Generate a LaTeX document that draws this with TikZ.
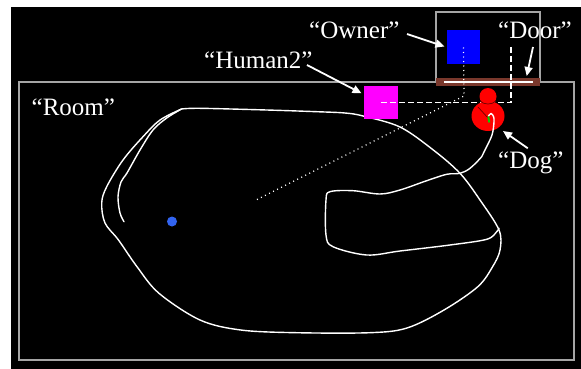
\documentclass[tikz,border=0pt]{standalone}
\usepackage{fontspec}
\setmainfont{Liberation Serif}
\usetikzlibrary{arrows.meta}
\definecolor{roomgray}{RGB}{165,165,165}
\definecolor{doorbrown}{RGB}{122,56,44}
\definecolor{dotblue}{RGB}{50,100,240}
\definecolor{ownerblue}{RGB}{0,0,255}
\definecolor{humanmag}{RGB}{255,0,255}
\definecolor{dogred}{RGB}{255,0,0}
\definecolor{darkdog}{RGB}{110,0,0}
\definecolor{dirgreen}{RGB}{0,210,0}
\tikzset{
  frame/.style={draw=roomgray,line width=1.1pt},
  traj/.style={draw=white,line width=1.4pt,line join=round,line cap=round},
  lbl/.style={text=white,inner sep=0pt,anchor=base west,font=\fontsize{25}{28}\selectfont},
  arr/.style={draw=white,line width=1.8pt,-{Triangle[length=9pt,width=8pt]}},
  dashw/.style={draw=white,line width=1.5pt,dash pattern=on 6pt off 3pt},
  dotw/.style={draw=white,line width=1.2pt,dash pattern=on 1pt off 3.5pt},
  box/.style={inner sep=0pt,draw=none}
}
\begin{document}
\begin{tikzpicture}[x=1pt,y=-1pt]
\useasboundingbox (0,0) rectangle (581,369);
\fill[white] (0,0) rectangle (581,369);
\fill[black] (11,7) rectangle (581,369);
% room and door box
\draw[frame] (19,82) rectangle (574,360);
\draw[frame] (436,12) rectangle (540,82);
\fill[doorbrown] (436,78) rectangle (540,86);
\draw[white,line width=1.2pt] (444,82) -- (533,82);
% trajectory (big loop)
\draw[traj] plot[smooth,tension=0.55] coordinates {
 (124,221.7) (120,213) (118,197) (121,182) (127,173) (140,150) (153,130) (166.7,118) (181.5,109)};
\draw[traj] plot[smooth,tension=0.55] coordinates {
 (181.5,109) (200,108.3) (266.7,110) (316.7,111.7) (345,113) (363,116) (400,127) (433.3,150) (460,173.3) (480,200) (499,230) (500,250) (492.6,266.7) (477.8,286.7) (444,310) (407,328) (370,332.7) (296,332.7) (240.7,330) (200,320) (159,293.3) (137,266.7) (118.5,240) (105,223) (101.7,203) (106.7,186.7) (123,160) (143,136.7) (160,120) (181.5,109)};
% squares
\node[box,fill=ownerblue,minimum width=33pt,minimum height=34pt] (owner) at (463.5,47.5) {};
\node[box,fill=humanmag,minimum width=34pt,minimum height=33pt] (human) at (380.5,102.7) {};
% dashed door lines
\coordinate (dtop) at (511,47);
\coordinate (dcorner) at (511,102.5);
\coordinate (dleft) at (380,102.5);
\draw[dashw] (dtop) -- (dcorner) -- (dleft);
% dotted gaze line
\coordinate (gbend) at (464,96);
\coordinate (gend) at (254,201);
\draw[dotw] (owner.center) -- (gbend) -- (gend);
% blue dot
\node[box,circle,fill=dotblue,minimum size=10pt] (bdot) at (172,221.5) {};
% dog
\fill[dogred] (488,116) ellipse [x radius=16.5pt,y radius=15pt];
\node[box,circle,fill=dogred,minimum size=17pt] (doghead) at (488,96.5) {};
\draw[darkdog,line width=0.7pt] (480,101) .. controls (484,105) and (492,105) .. (496,101);
\draw[darkdog,line width=0.7pt] (478,107) -- (488,118);
% trajectory from dog
\draw[traj] plot[smooth,tension=0.55] coordinates {
 (488.5,116) (491,113.5) (493.5,116.5) (494,122) (492,135) (485,150) (481.7,156.7) (470,168.3) (460,173.3) (446.7,174.3) (426.7,180.7) (400,190) (380,194) (353,190.7) (330,191.7) (326,200) (326,235) (333,246.7) (366.7,255) (400,251) (450,245) (486.7,239.3) (496.7,231.7) (499,228.3)};
\draw[dirgreen,line width=2pt] (488.3,116.5) -- (489.3,122.5);
% labels
\node[lbl] (roomlbl) at (31.5,115) {“Room”};
\node[lbl] (humanlbl) at (204,68.3) {“Human2”};
\node[lbl] (ownerlbl) at (309,38.3) {“Owner”};
\node[lbl] (doorlbl) at (498,38.3) {“Door”};
\node[lbl] (doglbl) at (498,168) {“Dog”};
% arrows
\coordinate (a1s) at (407,34);
\coordinate (a1e) at (444.5,46.5);
\coordinate (a2s) at (307,65);
\coordinate (a2e) at (361.5,93.3);
\coordinate (a3s) at (533,47);
\coordinate (a3e) at (526.7,76);
\coordinate (a4s) at (527.8,148.3);
\coordinate (a4e) at (503,131);
\draw[arr] (a1s) -- (a1e);
\draw[arr] (a2s) -- (a2e);
\draw[arr] (a3s) -- (a3e);
\draw[arr] (a4s) -- (a4e);
\end{tikzpicture}
\end{document}
